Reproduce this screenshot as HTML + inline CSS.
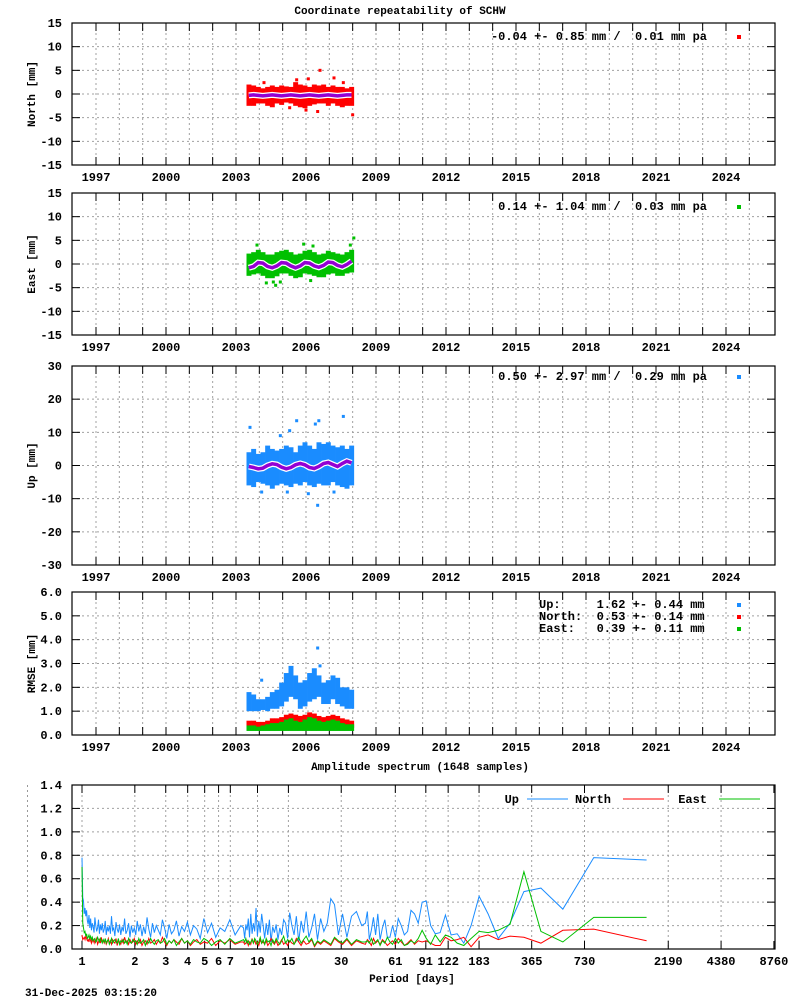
<!DOCTYPE html>
<html><head><meta charset="utf-8"><style>
html,body{margin:0;padding:0;background:#fff;}
svg{display:block;font-family:"Liberation Mono","DejaVu Sans Mono",monospace;font-weight:bold;}
text{white-space:pre;}
</style></head><body>
<svg id="chart" width="800" height="1000" viewBox="0 0 800 1000" xmlns="http://www.w3.org/2000/svg">
<rect width="800" height="1000" fill="#fff"/>
<text x="400" y="14" font-size="11" text-anchor="middle">Coordinate repeatability of SCHW</text>
<text x="420" y="770" font-size="11" text-anchor="middle">Amplitude spectrum (1648 samples)</text>
<text x="412" y="982" font-size="11" text-anchor="middle">Period [days]</text>
<text x="25" y="996" font-size="11">31-Dec-2025 03:15:20</text>
<line x1="27.5" y1="785" x2="27.5" y2="949" stroke="#999" stroke-dasharray="2,3"/>
<g id="g"></g>
</svg>
<script>
// ---- time-series data (bins of 0.2 yr starting 2003.45) ----
const binStart = 2003.45;
const binWidth = 0.2;
const northHi = [2,1.8,1.5,1.2,1.5,1.8,1.5,1.8,1.6,1.5,2.5,2,1.8,1.5,2,1.8,2,1.5,1.8,1.5,1.5,1.2,1.5];
const northLo = [-2.5,-2.5,-2,-2,-2.5,-2.8,-2,-2.3,-1.8,-2,-2.5,-2.8,-3,-2.5,-2.2,-2,-2,-2.5,-2,-2.5,-2.8,-2.5,-2.5];
const northFit = [-0.3,-0.2,-0.3,-0.4,-0.3,-0.2,-0.3,-0.4,-0.3,-0.2,-0.3,-0.4,-0.3,-0.2,-0.3,-0.4,-0.3,-0.2,-0.3,-0.4,-0.3,-0.2,-0.2];
const northOutT = [2004.2,2005.6,2006.1,2006.6,2006.5,2007.2,2007.6,2008.0,2006.0,2005.3];
const northOutV = [2.4,3,3.2,5,-3.7,3.4,2.4,-4.4,-3.4,-2.9];
const eastHi = [2.2,2.5,3,2.5,2,2,2.5,2.8,3,2.5,2,2.2,2.8,3,2.5,2,2.2,2.8,2.5,2.2,2,2.5,3];
const eastLo = [-2.5,-2.2,-2,-2.5,-3,-3,-2.6,-2,-2,-2.5,-3,-2.8,-2,-2.2,-2.5,-2.8,-2.8,-2.2,-2,-2.5,-2.5,-2,-1.8];
const eastFit = [-0.8,-0.5,0.3,0.2,-0.5,-0.8,-0.4,0.3,0.2,-0.4,-0.8,-0.4,0.3,0.2,-0.4,-0.7,-0.3,0.4,0.3,-0.3,-0.6,-0.1,0.6];
const eastOutT = [2003.9,2004.3,2004.7,2004.6,2005.9,2006.2,2007.9,2008.05,2004.9,2006.3];
const eastOutV = [4,-4,-4.5,-3.8,4.2,-3.5,4,5.5,-3.8,3.8];
const upHi = [4,5,3.5,4,6,5,4.5,5,6,5.5,4,6,7,6,5,7,6.5,7,6,5.5,6,5,6];
const upLo = [-6,-6.5,-5,-5.5,-6,-7,-6,-5.5,-6,-6.5,-5.5,-6,-5,-6,-6.5,-5.5,-6,-6,-5,-6,-6.5,-7,-6];
const upFit = [-0.3,-0.6,-1,-0.8,0,0.5,0.3,-0.5,-1,-0.6,0.2,0.6,0.2,-0.6,-0.9,-0.3,0.6,0.9,0.3,-0.3,0.6,1.3,0.8];
const upOutT = [2003.6,2004.9,2005.3,2006.4,2006.55,2007.6,2006.1,2006.5,2005.2,2004.1,2005.6,2007.2];
const upOutV = [11.5,9,10.5,12.5,13.5,14.8,-8.5,-12,-8,-8,13.5,-8];
const rmseUpHi = [1.8,1.7,1.5,1.5,1.6,1.8,1.9,2.2,2.6,2.9,2.5,2.2,2.3,2.6,2.8,2.5,2.2,2.3,2.5,2.4,2.0,2.0,1.9];
const rmseUpLo = [1.0,1.0,1.0,1.05,1.0,1.1,1.1,1.2,1.4,1.6,1.5,1.1,1.2,1.4,1.5,1.6,1.3,1.3,1.5,1.3,1.2,1.1,1.1];
const rmseUpOutT = [2006.5,2004.1,2006.6];
const rmseUpOutV = [3.65,2.3,2.9];
const rmseNorthHi = [0.6,0.6,0.55,0.55,0.6,0.7,0.7,0.75,0.85,0.9,0.85,0.8,0.85,0.95,0.9,0.8,0.75,0.8,0.85,0.8,0.7,0.65,0.6];
const rmseNorthLo = [0.3,0.3,0.3,0.3,0.3,0.3,0.3,0.3,0.3,0.3,0.3,0.3,0.3,0.3,0.3,0.3,0.3,0.3,0.3,0.3,0.3,0.3,0.3];
const rmseEastHi = [0.4,0.4,0.35,0.4,0.45,0.5,0.5,0.55,0.65,0.7,0.6,0.55,0.65,0.75,0.7,0.6,0.55,0.6,0.65,0.6,0.5,0.45,0.45];
const rmseEastLo = [0.17,0.17,0.17,0.17,0.17,0.17,0.17,0.17,0.17,0.17,0.17,0.17,0.17,0.17,0.17,0.17,0.17,0.17,0.17,0.17,0.17,0.17,0.17];
const yearLabels = [1997,2000,2003,2006,2009,2012,2015,2018,2021,2024];
// ---- spectrum data (amplitude in 1/100 mm) ----
const spectrumSamples = 1648;
const specUpA = [76,78,34,52,49,22,9,30,45,20,5,13,12,29,14,13,20,41,40,22,30,33,15,12,20,26,10,20,10,10,25,18,8,30,12,27,16,8,32,22];
const specUpB = [20,32,28,10,30,12,38,43,22,15,26,8,30,18,10,32,14,24,6,28,12,20,31,9,22,25,12,18,8,21,14,19,6,25,12,22,9,20,30,14,24,11,35,15,22,13,30,10,26,16,21,9,18];
const specUpC = [20,12,25,15,18,10,22,14,26,9,17,20,12,23,15,19,11,24,16,13,21,9,18,25,12,16,20,14,22,10,17,27,13,19,11,21,15,24,12,18,14,20,10,22,16,13,26,15,19,12,21,14,17,23,11,18,16,28,13,20,15,19,12,24,17,14,22,16,21,13,25,18,15,20,27,14,19,22,16,26,18,29,21,24,33,28,35,30,41,44,78];
const specNorthA = [7,17,16,5,10,11,8,12,10,2,10,8,7,10,3,3,5,7,6,7,4,8,5,3,6,9,4,7,5,3,6,8,4,7,5,9,3,6,8,4];
const specNorthB = [5,7,3,8,4,6,9,3,5,7,4,6,2,8,5,4,7,3,6,9,4,5,7,3,6,4,8,5,3,7,4,6,9,5,3,7,4,6,5,8,3,6,4,7,5,9,4,6,3,7,5,4,6];
const specNorthC = [6,4,8,5,7,3,9,5,6,4,8,6,3,7,5,9,4,6,8,5,7,3,6,10,5,7,4,8,6,5,9,4,7,6,3,8,5,7,4,9,6,5,8,4,7,6,10,5,8,4,6,7,3,9,5,6,8,4,7,5,9,6,4,8,5,7,6,10,5,8,6,4,9,7,5,8,6,9,5,7,10,6,8,7,9,11,8,10,9,8,12];
const specEastA = [27,27,6,15,66,21,16,14,15,9,3,5,10,12,6,12,4,9,16,9,5,7,4,3,8,5,9,4,6,10,5,7,3,8,6,4,9,5,7,6];
const specEastB = [6,8,4,9,5,7,10,4,6,8,5,7,3,9,6,11,8,5,10,7,4,9,6,8,5,11,7,4,6,9,5,8,3,7,6,9,4,8,5,10,6,4,7,9,5,8,6,4,7,5,9,6,8];
const specEastC = [7,5,9,4,8,6,3,7,9,5,6,8,4,7,5,9,6,3,8,5,7,4,9,6,5,8,7,4,6,9,5,7,3,8,6,5,9,4,7,6,8,5,6,9,4,7,5,8,6,7,4,9,5,6,8,7,5,9,6,4,8,7,5,9,6,8,5,7,9,6,8,10,7,6,9,8,7,10,8,11,9,12,10,9,13,11,15,14,18,22,70];
const periodTicks = [1,2,3,4,5,6,7,10,15,30,61,91,122,183,365,730,2190,4380,8760];
const ampTicks = [0,0.2,0.4,0.6,0.8,1.0,1.2,1.4];

const NS = 'http://www.w3.org/2000/svg';
const G = document.getElementById('g');
function el(tag, attrs, parent) {
  const e = document.createElementNS(NS, tag);
  for (const k in attrs) e.setAttribute(k, attrs[k]);
  (parent || G).appendChild(e);
  return e;
}
const L = 72, R = 775;
const BLUE = '#1a8cff', RED = '#ff0000', GREEN = '#00c000', PURPLE = '#9400d3';
function xYear(t) { return 96 + (t - 1997) * 23.333; }

function panel(name, top, bot, min, max, step, dec, title) {
  const ys = v => bot - (v - min) / (max - min) * (bot - top);
  const grp = el('g', {});
  
  
  for (let y = 1996; y <= 2025; y++) {
    const x = xYear(y);
    if (x < L + 2 || x > R - 2) continue;
    const gl = el('line', {x1: x, y1: top, x2: x, y2: bot, stroke: '#a0a0a0', 'stroke-dasharray': '2,3'}, grp);
    
    
    el('line', {x1: x, y1: bot, x2: x, y2: bot - 8, stroke: '#000'}, grp);
    el('line', {x1: x, y1: top, x2: x, y2: top + 8, stroke: '#000'}, grp);
  }
  for (let v = min; v <= max + 1e-9; v += step) {
    const y = ys(v);
    if (v > min + 1e-9 && v < max - 1e-9) {
      const gl = el('line', {x1: L, y1: y, x2: R, y2: y, stroke: '#a0a0a0', 'stroke-dasharray': '2,3'}, grp);
      
      
    }
    el('line', {x1: L, y1: y, x2: L + 8, y2: y, stroke: '#000'}, grp);
    el('line', {x1: R, y1: y, x2: R - 8, y2: y, stroke: '#000'}, grp);
    const t = el('text', {x: 62, y: y + 4, 'font-size': 12, 'text-anchor': 'end'}, grp);
    
    
    t.textContent = v.toFixed(dec);
  }
  yearLabels.forEach(yl => {
    const t = el('text', {x: xYear(yl), y: bot + 16, 'font-size': 12, 'text-anchor': 'middle'}, grp);
    
    
    t.textContent = yl;
  });
  const yt = el('text', {x: 0, y: 0, 'font-size': 11, 'text-anchor': 'middle', transform: `translate(35,${(top + bot) / 2}) rotate(-90)`}, grp);
  
  
  yt.textContent = title;
  const fr = el('rect', {x: L, y: top, width: R - L, height: bot - top, fill: 'none', stroke: '#000', 'stroke-width': 1.2}, grp);
  
  
  return {ys, grp};
}

function band(p, hi, lo, color, name) {
  const bg = el('g', {}, p.grp);
  
  
  for (let i = 0; i < hi.length; i++) {
    const x0 = xYear(binStart + i * binWidth), x1 = xYear(binStart + (i + 1) * binWidth);
    const y0 = p.ys(hi[i]), y1 = p.ys(lo[i]);
    const r = el('rect', {x: x0, y: y0, width: x1 - x0 + 0.3, height: y1 - y0, fill: color}, bg);
    
    
  }
}
function outliers(p, ts, vs, color) {
  for (let i = 0; i < ts.length; i++) {
    const r = el('rect', {x: xYear(ts[i]) - 1.5, y: p.ys(vs[i]) - 1.5, width: 3, height: 3, fill: color}, p.grp);
    
    
  }
}
function fit(p, vals) {
  const pts = vals.map((v, i) => xYear(binStart + (i + 0.5) * binWidth).toFixed(1) + ',' + p.ys(v).toFixed(1)).join(' ');
  el('polyline', {points: pts, fill: 'none', stroke: '#fff', 'stroke-width': 6}, p.grp);
  const pl = el('polyline', {points: pts, fill: 'none', stroke: PURPLE, 'stroke-width': 3.5}, p.grp);
  
  
}
function legendText(p, x, y, txt, anchor, name) {
  const t = el('text', {x, y, 'font-size': 12, 'text-anchor': anchor}, p.grp);
  
  
  t.textContent = txt;
}
function marker(p, y, color) {
  const r = el('rect', {x: 737, y: y - 2, width: 4, height: 4, fill: color}, p.grp);
  
  
}

// North
const p1 = panel('north', 23, 165, -15, 15, 5, 0, 'North [mm]');
band(p1, northHi, northLo, RED, 'north-series');
outliers(p1, northOutT, northOutV, RED);
fit(p1, northFit);
legendText(p1, 707, 40, '-0.04 +- 0.85 mm /  0.01 mm pa', 'end', 'north-legend');
marker(p1, 37, RED);
// East
const p2 = panel('east', 193, 335, -15, 15, 5, 0, 'East [mm]');
band(p2, eastHi, eastLo, GREEN, 'east-series');
outliers(p2, eastOutT, eastOutV, GREEN);
fit(p2, eastFit);
legendText(p2, 707, 210, '0.14 +- 1.04 mm /  0.03 mm pa', 'end', 'east-legend');
marker(p2, 207, GREEN);
// Up
const p3 = panel('up', 366, 565, -30, 30, 10, 0, 'Up [mm]');
band(p3, upHi, upLo, BLUE, 'up-series');
outliers(p3, upOutT, upOutV, BLUE);
fit(p3, upFit);
legendText(p3, 707, 380, '0.50 +- 2.97 mm /  0.29 mm pa', 'end', 'up-legend');
marker(p3, 377, BLUE);
// RMSE
const p4 = panel('rmse', 592, 735, 0, 6, 1, 1, 'RMSE [mm]');
band(p4, rmseUpHi, rmseUpLo, BLUE, 'rmse-up-series');
outliers(p4, rmseUpOutT, rmseUpOutV, BLUE);
band(p4, rmseNorthHi, rmseNorthLo, RED, 'rmse-north-series');
band(p4, rmseEastHi, rmseEastLo, GREEN, 'rmse-east-series');
legendText(p4, 539, 608, 'Up:     1.62 +- 0.44 mm', 'start', 'rmse-up-legend');
legendText(p4, 539, 620, 'North:  0.53 +- 0.14 mm', 'start', 'rmse-north-legend');
legendText(p4, 539, 632, 'East:   0.39 +- 0.11 mm', 'start', 'rmse-east-legend');
marker(p4, 605, BLUE); marker(p4, 617, RED); marker(p4, 629, GREEN);

// Spectrum
const ST = 785, SB = 949;
const sx = P => 82 + 175.5 * Math.log10(P);
const sy = a => SB - a * (SB - ST) / 1.4;
const sg = el('g', {});


periodTicks.forEach(P => {
  const x = sx(P);
  if (x < R - 2) {
    const gl = el('line', {x1: x, y1: ST, x2: x, y2: SB, stroke: '#a0a0a0', 'stroke-dasharray': '2,3'}, sg);
    
    
  }
  el('line', {x1: x, y1: SB, x2: x, y2: SB - 8, stroke: '#000'}, sg);
  el('line', {x1: x, y1: ST, x2: x, y2: ST + 8, stroke: '#000'}, sg);
  const t = el('text', {x, y: SB + 16, 'font-size': 12, 'text-anchor': 'middle'}, sg);
  
  
  t.textContent = P;
});
ampTicks.forEach(a => {
  const y = sy(a);
  if (a > 0 && a < 1.4) {
    const gl = el('line', {x1: L, y1: y, x2: R, y2: y, stroke: '#a0a0a0', 'stroke-dasharray': '2,3'}, sg);
    
    
  }
  el('line', {x1: L, y1: y, x2: L + 8, y2: y, stroke: '#000'}, sg);
  el('line', {x1: R, y1: y, x2: R - 8, y2: y, stroke: '#000'}, sg);
  const t = el('text', {x: 62, y: y + 4, 'font-size': 12, 'text-anchor': 'end'}, sg);
  
  
  t.textContent = a.toFixed(1);
});
function specPoints(A, B, C) {
  const pts = [];
  A.forEach((v, i) => pts.push([spectrumSamples / (i + 1), v / 100]));
  B.forEach((v, i) => pts.push([spectrumSamples / (42 + 3 * i), v / 100]));
  C.forEach((v, i) => pts.push([spectrumSamples / (205 + (spectrumSamples - 205) * i / (C.length - 1)), v / 100]));
  return pts.map(p => sx(p[0]).toFixed(2) + ',' + sy(p[1]).toFixed(2)).join(' ');
}
[['spectrum-up-line', specUpA, specUpB, specUpC, BLUE],
 ['spectrum-north-line', specNorthA, specNorthB, specNorthC, RED],
 ['spectrum-east-line', specEastA, specEastB, specEastC, GREEN]].forEach(s => {
  const pl = el('polyline', {points: specPoints(s[1], s[2], s[3]), fill: 'none', stroke: s[4], 'stroke-width': 1}, sg);
  
  
});
const sf = el('rect', {x: L, y: ST, width: R - L, height: SB - ST, fill: 'none', stroke: '#000', 'stroke-width': 1.2}, sg);


// spectrum legend
[['Up', 519, 527, BLUE], ['North', 611, 623, RED], ['East', 707, 719, GREEN]].forEach(l => {
  const t = el('text', {x: l[1], y: 803, 'font-size': 12, 'text-anchor': 'end'}, sg);
  
  
  t.textContent = l[0];
  const ln = el('line', {x1: l[2], y1: 799, x2: l[2] + 41, y2: 799, stroke: l[3], 'stroke-width': 1}, sg);
  
  
});
</script>
</body></html>
